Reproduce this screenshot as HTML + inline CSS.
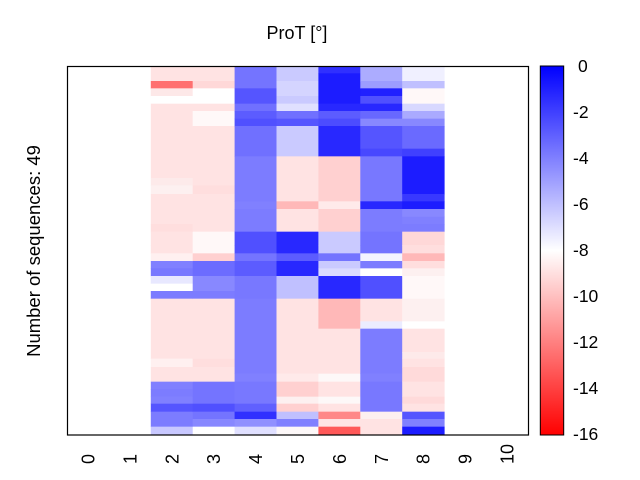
<!DOCTYPE html>
<html><head><meta charset="utf-8"><style>body{margin:0;background:#fff}svg{display:block}text{font-family:"Liberation Sans",sans-serif;fill:#000}</style></head><body>
<svg width="640" height="480" xmlns="http://www.w3.org/2000/svg">
<defs><linearGradient id="cb" x1="0" y1="0" x2="0" y2="1"><stop offset="0" stop-color="#0000ff"/><stop offset="0.5" stop-color="#ffffff"/><stop offset="1" stop-color="#ff0000"/></linearGradient></defs>
<g id="cells"></g>
<rect x="67.5" y="66.5" width="461" height="368.5" fill="none" stroke="#000" stroke-width="1.2"/>
<rect x="540.3" y="66" width="23.4" height="369" fill="url(#cb)" stroke="#000" stroke-width="1"/>
<g font-size="17.5">
<text x="578" y="72">0</text><text x="573" y="118">-2</text><text x="573" y="164">-4</text><text x="573" y="210">-6</text><text x="573" y="256">-8</text><text x="573" y="302">-10</text><text x="573" y="348">-12</text><text x="573" y="394">-14</text><text x="573" y="440">-16</text>
</g>
<text x="297" y="39" font-size="18" text-anchor="middle">ProT [°]</text>
<text transform="translate(40,251) rotate(-90)" font-size="18.5" text-anchor="middle">Number of sequences: 49</text>
<g id="xl" font-size="18"></g>
</svg>
<script>
var NS="http://www.w3.org/2000/svg";
var g=document.getElementById('cells');
function col(c,segs,y0){var x=67+41.9*c;segs.forEach(function(s){var r=document.createElementNS(NS,'rect');r.setAttribute('x',x);r.setAttribute('width',42.4);r.setAttribute('y',y0+s[0]/3);r.setAttribute('height',(s[1]-s[0])/3+0.4);r.setAttribute('fill','#'+s[2]);g.appendChild(r);});}
var A={2:[[18,63,'ffe3e3'],[63,85,'ff7070'],[85,108,'fde8e8'],[108,131,'ffffff'],[131,354,'ffe3e3'],[354,376,'fdeaea'],[376,402,'fdf0f0'],[402,492,'ffe3e3'],[492,515,'ffdede'],[515,555,'ffe3e3']],
3:[[18,63,'ffe3e3'],[63,85,'ffd8d8'],[85,131,'ffffff'],[131,153,'ffe3e3'],[153,198,'fff8f8'],[198,376,'ffe3e3'],[376,402,'ffdede'],[402,515,'ffe3e3'],[515,555,'fff8f8']],
4:[[18,85,'7474ff'],[85,131,'5555ff'],[131,153,'7070ff'],[153,176,'5c5cff'],[176,198,'5050ff'],[198,289,'7070ff'],[289,424,'7c7cff'],[424,447,'8080ff'],[447,515,'7c7cff'],[515,555,'5050ff']],
5:[[18,63,'cacaff'],[63,108,'d4d4ff'],[108,131,'cacaff'],[131,153,'e0e0ff'],[153,176,'7070ff'],[176,198,'5555ff'],[198,289,'cacaff'],[289,424,'ffe3e3'],[424,447,'ffb8b8'],[447,515,'ffe3e3'],[515,555,'2828ff']],
6:[[18,40,'3030ff'],[40,131,'1c1cff'],[131,153,'2828ff'],[153,176,'5c5cff'],[176,198,'4c4cff'],[198,289,'2828ff'],[289,424,'ffd0d0'],[424,447,'ffeaea'],[447,515,'ffd0d0'],[515,555,'cacaff']],
7:[[18,63,'acacff'],[63,85,'9c9cff'],[85,108,'2020ff'],[108,131,'5050ff'],[131,153,'2828ff'],[153,176,'6868ff'],[176,198,'8888ff'],[198,266,'5555ff'],[266,289,'4848ff'],[289,424,'7878ff'],[424,447,'2828ff'],[447,515,'7c7cff'],[515,555,'7474ff']],
8:[[18,63,'f0f0ff'],[63,85,'c0c0ff'],[85,131,'fff8f8'],[131,153,'d8d8ff'],[153,176,'aaaaff'],[176,198,'8888ff'],[198,266,'6a6aff'],[266,289,'4040ff'],[289,402,'1c1cff'],[402,424,'3838ff'],[424,447,'1c1cff'],[447,470,'8888ff'],[470,492,'8080ff'],[492,515,'7c7cff'],[515,555,'ffd8d8']]};
var B={2:[[0,25,'ffe3e3'],[25,48,'fff0f0'],[48,70,'8080ff'],[70,93,'7878ff'],[93,116,'e8e8ff'],[116,138,'ffffff'],[138,161,'7c7cff'],[161,341,'ffe3e3'],[341,366,'fff0f0'],[366,410,'ffe3e3'],[410,432,'8080ff'],[432,455,'7c7cff'],[455,476,'8080ff'],[476,500,'5555ff'],[500,545,'7c7cff'],[545,570,'c8c8ff']],
3:[[0,25,'fff8f8'],[25,48,'ffd0d0'],[48,93,'6c6cff'],[93,138,'8888ff'],[138,161,'7c7cff'],[161,341,'ffe3e3'],[341,366,'ffdede'],[366,410,'ffe3e3'],[410,476,'7474ff'],[476,500,'5050ff'],[500,522,'7474ff'],[522,545,'8888ff'],[545,570,'ffffff']],
4:[[0,25,'5050ff'],[25,48,'7474ff'],[48,93,'5c5cff'],[93,161,'7878ff'],[161,386,'7c7cff'],[386,410,'8080ff'],[410,476,'7878ff'],[476,500,'6060ff'],[500,522,'3030ff'],[522,545,'9090ff'],[545,570,'e0e0ff']],
5:[[0,25,'2828ff'],[25,48,'5c5cff'],[48,93,'2828ff'],[93,161,'c0c0ff'],[161,386,'ffe3e3'],[386,410,'ffeaea'],[410,455,'ffd0d0'],[455,476,'fdf0f0'],[476,500,'ffd0d0'],[500,522,'c0c0ff'],[522,545,'8080ff'],[545,570,'fdf8f8']],
6:[[0,25,'cacaff'],[25,48,'7474ff'],[48,70,'cacaff'],[70,93,'dadaff'],[93,161,'2828ff'],[161,251,'ffb8b8'],[251,386,'ffe3e3'],[386,410,'fdf8f8'],[410,455,'ffe3e3'],[455,476,'fdf8f8'],[476,500,'ffe3e3'],[500,522,'ff8888'],[522,545,'ffe3e3'],[545,570,'ff5858']],
7:[[0,25,'7474ff'],[25,48,'f4f4ff'],[48,70,'7c7cff'],[70,93,'ffffff'],[93,161,'5050ff'],[161,229,'ffe3e3'],[229,251,'ececff'],[251,386,'7c7cff'],[386,410,'8080ff'],[410,500,'7878ff'],[500,522,'fdf0f0'],[522,570,'ffe3e3']],
8:[[0,25,'ffdede'],[25,48,'ffb8b8'],[48,70,'ffdede'],[70,93,'fdf0f0'],[93,161,'fff8f8'],[161,229,'fdf0f0'],[229,251,'ffffff'],[251,321,'ffe3e3'],[321,341,'fdeaea'],[341,366,'ffe3e3'],[366,410,'ffdada'],[410,455,'ffe3e3'],[455,476,'ffdada'],[476,500,'ffe3e3'],[500,522,'5555ff'],[522,545,'8080ff'],[545,570,'1c1cff']]};
for(var c=2;c<=8;c++){col(c,A[c],60);col(c,B[c],245);}
var xl=document.getElementById('xl');
for(var i=0;i<=10;i++){var t=document.createElementNS(NS,'text');var cx=67+41.9*(i+0.5)+6.5;t.setAttribute('transform','translate('+cx+',464) rotate(-90)');t.textContent=i;xl.appendChild(t);}
</script>
</body></html>
